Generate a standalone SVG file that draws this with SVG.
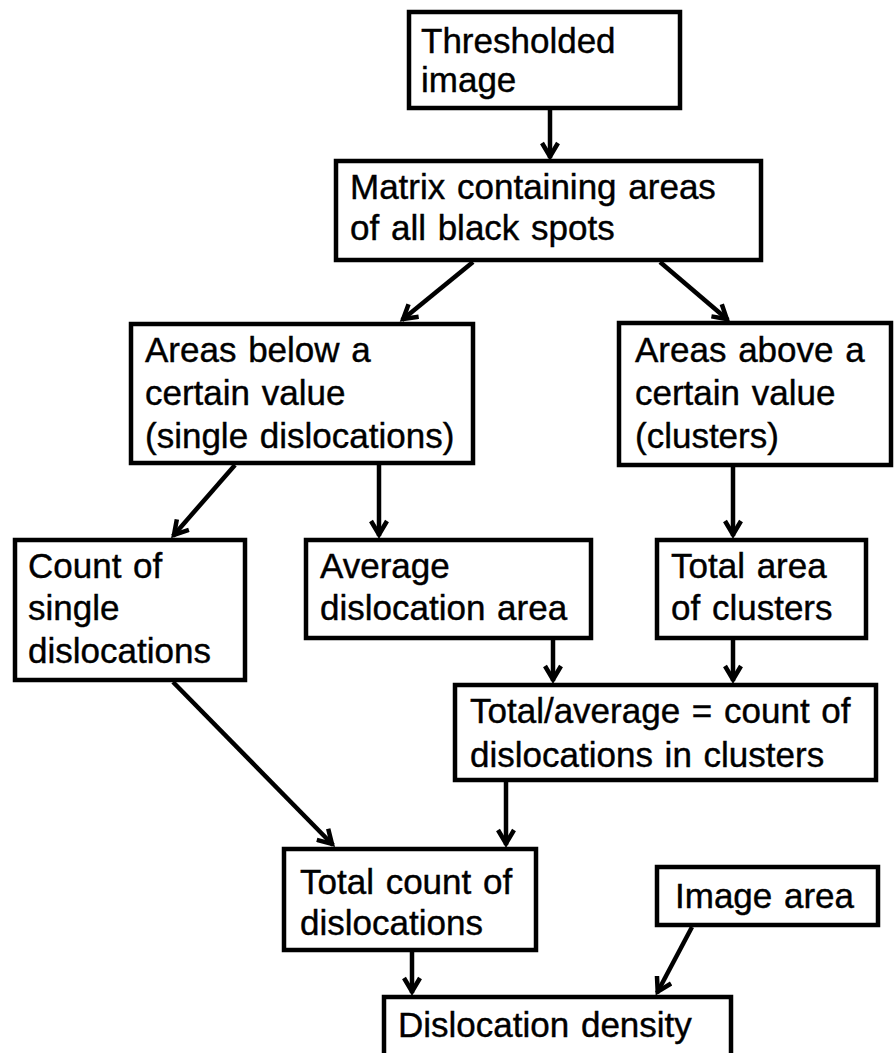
<svg xmlns="http://www.w3.org/2000/svg" width="895" height="1053" viewBox="0 0 895 1053">
<style>
.box{fill:#fff;stroke:#000;stroke-width:4.5}
.t{font-family:"Liberation Sans",Arial,sans-serif;font-size:35px;word-spacing:2px;fill:#000;stroke:#000;stroke-width:0.4}
.c{stroke:#000;stroke-width:4.5;fill:none}
</style>
<defs>
<marker id="ah" markerUnits="userSpaceOnUse" viewBox="-18 -10 22 20" refX="0" refY="0" markerWidth="22" markerHeight="20" orient="auto">
<path d="M-15,-8 L-1.5,0 L-15,8" fill="none" stroke="#000" stroke-width="4.5"/>
</marker>
</defs>
<rect width="895" height="1053" fill="#fff"/>
<g id="connectors">
<line class="c" x1="550" y1="110" x2="550" y2="158" marker-end="url(#ah)"/>
<line class="c" x1="473" y1="262" x2="402" y2="320" marker-end="url(#ah)"/>
<line class="c" x1="660" y1="262" x2="728" y2="320" marker-end="url(#ah)"/>
<line class="c" x1="235" y1="465" x2="173" y2="536" marker-end="url(#ah)"/>
<line class="c" x1="379" y1="465" x2="379" y2="536" marker-end="url(#ah)"/>
<line class="c" x1="733" y1="467" x2="733" y2="536" marker-end="url(#ah)"/>
<line class="c" x1="553" y1="640" x2="553" y2="681" marker-end="url(#ah)"/>
<line class="c" x1="733" y1="640" x2="733" y2="681" marker-end="url(#ah)"/>
<line class="c" x1="173" y1="682" x2="333" y2="845" marker-end="url(#ah)"/>
<line class="c" x1="506" y1="782" x2="506" y2="845" marker-end="url(#ah)"/>
<line class="c" x1="412" y1="952" x2="412" y2="993" marker-end="url(#ah)"/>
<line class="c" x1="692" y1="927" x2="657" y2="993" marker-end="url(#ah)"/>
</g>
<g id="n1"><rect class="box" x="409" y="12" width="271" height="96"/>
<text class="t" x="421" y="53">Thresholded</text><text class="t" x="421" y="92">image</text></g>
<g id="n2"><rect class="box" x="336" y="161" width="425" height="99"/>
<text class="t" x="350" y="199">Matrix containing areas</text><text class="t" x="350" y="240">of all black spots</text></g>
<g id="n3"><rect class="box" x="131" y="324" width="342" height="139"/>
<text class="t" x="145" y="362">Areas below a</text><text class="t" x="145" y="405">certain value</text><text class="t" x="145" y="448">(single dislocations)</text></g>
<g id="n4"><rect class="box" x="619" y="323" width="272" height="142"/>
<text class="t" x="635" y="362">Areas above a</text><text class="t" x="635" y="405">certain value</text><text class="t" x="635" y="448">(clusters)</text></g>
<g id="n5"><rect class="box" x="15" y="540" width="230" height="140"/>
<text class="t" x="28" y="578">Count of</text><text class="t" x="28" y="620">single</text><text class="t" x="28" y="663">dislocations</text></g>
<g id="n6"><rect class="box" x="306" y="540" width="285" height="98"/>
<text class="t" x="320" y="578">Average</text><text class="t" x="320" y="620">dislocation area</text></g>
<g id="n7"><rect class="box" x="657" y="540" width="209" height="98"/>
<text class="t" x="671" y="578">Total area</text><text class="t" x="671" y="620">of clusters</text></g>
<g id="n8"><rect class="box" x="455" y="685" width="421" height="95"/>
<text class="t" x="470" y="723">Total/average = count of</text><text class="t" x="470" y="767">dislocations in clusters</text></g>
<g id="n9"><rect class="box" x="284" y="849" width="252" height="101"/>
<text class="t" x="300" y="894">Total count of</text><text class="t" x="300" y="935">dislocations</text></g>
<g id="n10"><rect class="box" x="657" y="867" width="221" height="58"/>
<text class="t" x="675" y="908">Image area</text></g>
<g id="n11"><rect class="box" x="384" y="997" width="347" height="70"/>
<text class="t" x="398" y="1037">Dislocation density</text></g>
</svg>
